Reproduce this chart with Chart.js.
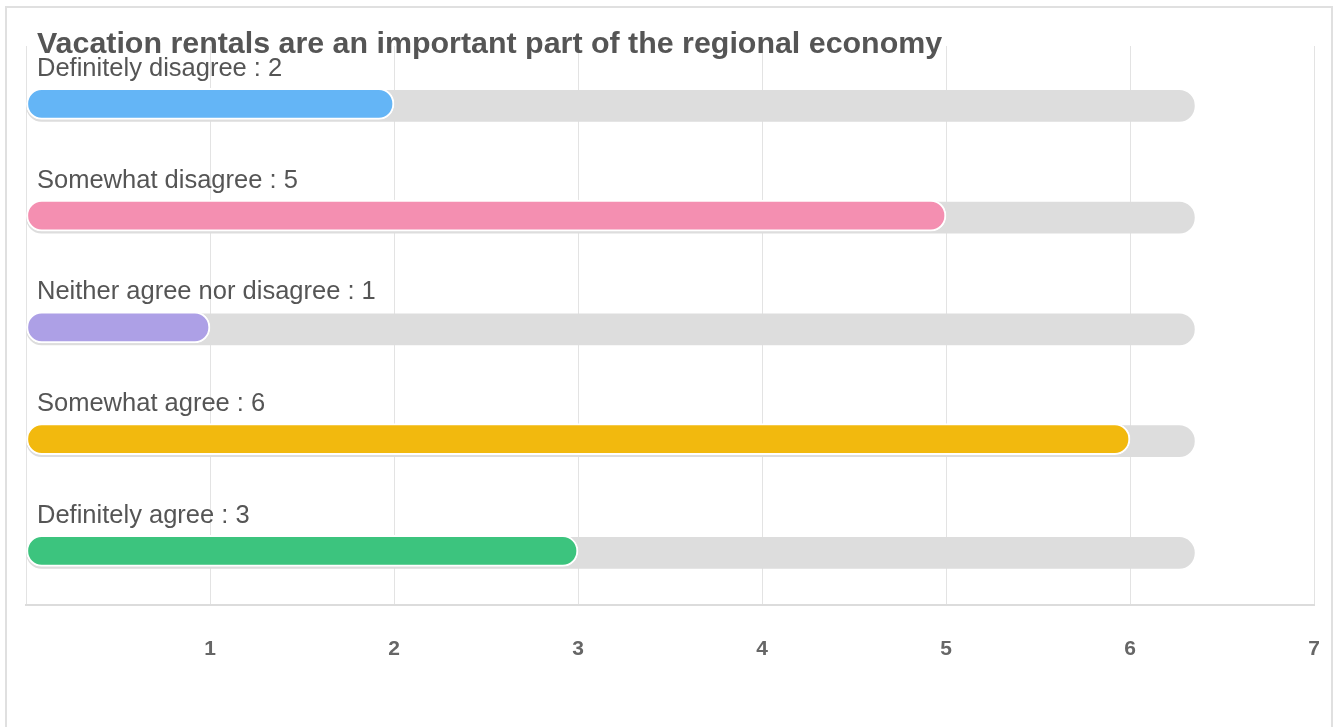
<!DOCTYPE html>
<html>
<head>
<meta charset="utf-8">
<script src="https://cdn.jsdelivr.net/npm/chart.js@4.4.1/dist/chart.umd.min.js"></script>
<style>
  html, body { margin: 0; padding: 0; background: #fff; }
  #wrap { position: relative; width: 1338px; height: 727px; overflow: hidden; }
  #frame { position: absolute; left: 5px; top: 6px; width: 1328px; height: 800px; border: 2px solid #e0e0e0; box-sizing: border-box; }
  #chart { position: absolute; left: 0; top: 0; }
</style>
</head>
<body>
<div id="wrap">
  <div id="frame"></div>
  <canvas id="chart" width="1338" height="727"></canvas>
</div>
<script>
// Survey answers
const chartTitle = "Vacation rentals are an important part of the regional economy";
const categories = ["Definitely disagree", "Somewhat disagree", "Neither agree nor disagree", "Somewhat agree", "Definitely agree"];
const counts = [2, 5, 1, 6, 3];
// grey track behind every bar
const trackValues = [6.35, 6.35, 6.35, 6.35, 6.35];
const xTicks = [1, 2, 3, 4, 5, 6, 7];

const barColors = ["#64b5f6", "#f48fb1", "#ada0e6", "#f2b90e", "#3cc47e"];

const FONT = "'Liberation Sans', Arial, Helvetica, sans-serif";

// the coloured bar sits a little higher than its grey track
const barNudge = {
  id: "barNudge",
  beforeDatasetDraw(chart, args) {
    chart.ctx.save();
    chart.ctx.translate(0, args.index === 0 ? 2 : 4);
  },
  afterDatasetDraw(chart) {
    chart.ctx.restore();
  }
};

// labels above bars + the title
const barLabels = {
  id: "barLabels",
  afterDraw(chart) {
    const ctx = chart.ctx;
    const area = chart.chartArea;
    const meta = chart.getDatasetMeta(1);
    ctx.save();
    ctx.fillStyle = "#555";
    ctx.textBaseline = "middle";
    ctx.textAlign = "left";
    ctx.font = "25.5px " + FONT;
    meta.data.forEach((bar, i) => {
      ctx.fillText(categories[i] + " : " + counts[i], area.left + 11, bar.y - 33);
    });
    ctx.font = "bold 30.4px " + FONT;
    ctx.fillText(chartTitle, area.left + 11, 45);
    ctx.restore();
  }
};

const ctx = document.getElementById("chart").getContext("2d");
new Chart(ctx, {
  type: "bar",
  data: {
    labels: categories,
    datasets: [{
      label: "Responses",
      data: counts,
      backgroundColor: barColors,
      borderColor: "#ffffff",
      borderWidth: 2,
      borderRadius: 16,
      borderSkipped: false,
      barThickness: 31,
      grouped: false,
      order: 0
    }, {
      label: "Track",
      data: trackValues,
      backgroundColor: "#dddddd",
      borderWidth: 0,
      borderRadius: 16,
      borderSkipped: false,
      barThickness: 31,
      grouped: false,
      order: 1
    }]
  },
  options: {
    indexAxis: "y",
    responsive: false,
    maintainAspectRatio: false,
    animation: false,
    layout: {
      padding: { left: 26, right: 24, top: 46, bottom: 65 }
    },
    plugins: {
      legend: { display: false },
      title: { display: false },
      tooltip: { enabled: false }
    },
    scales: {
      x: {
        min: 0,
        max: 7,
        afterBuildTicks(axis) {
          axis.ticks = [0].concat(xTicks).map(v => ({ value: v }));
        },
        grid: { color: "#e3e3e3", drawTicks: true, tickLength: 32, tickColor: "rgba(0,0,0,0)", lineWidth: 1 },
        border: { color: "#dcdcdc", width: 2 },
        ticks: {
          padding: 0,
          color: "#666",
          font: { family: FONT, size: 21, weight: "bold" },
          callback: v => (v === 0 ? "" : v)
        }
      },
      y: {
        display: false
      }
    }
  },
  plugins: [barNudge, barLabels]
});
</script>
</body>
</html>
